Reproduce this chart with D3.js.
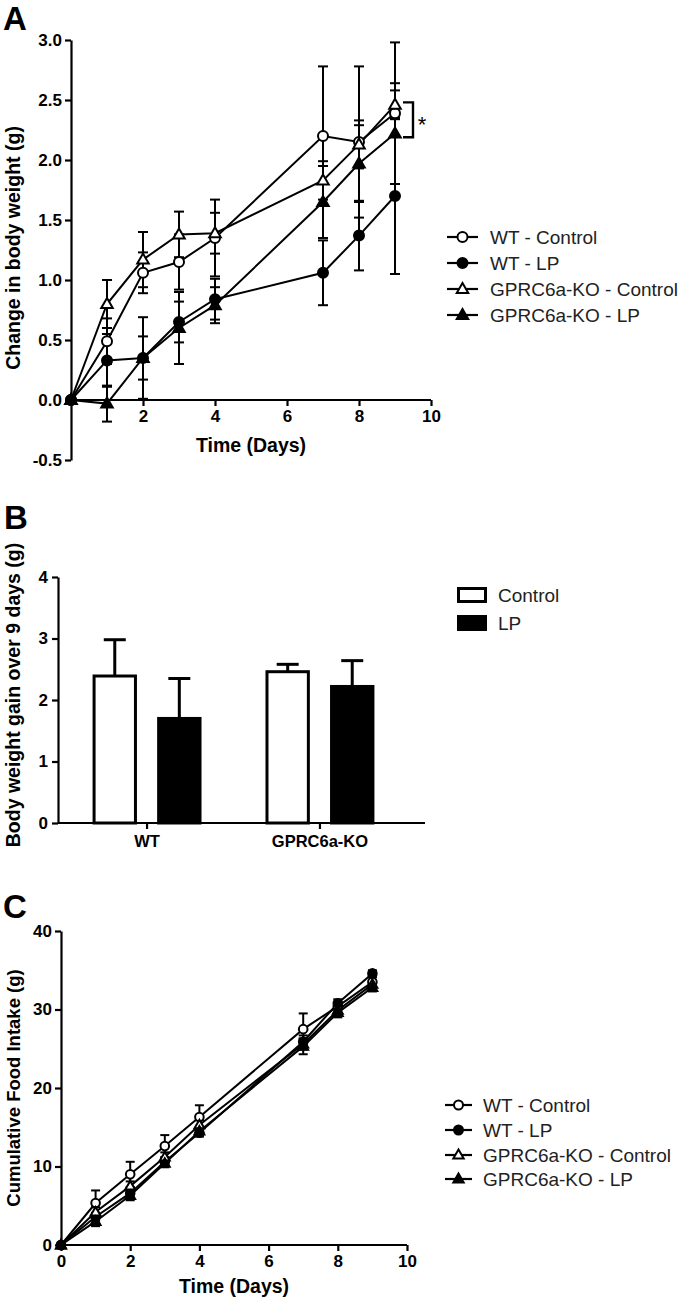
<!DOCTYPE html>
<html>
<head>
<meta charset="utf-8">
<script src="https://cdn.jsdelivr.net/npm/d3@7"></script>
<style>
  html, body { margin: 0; padding: 0; background: #fff; }
  svg { display: block; }
  text { font-family: "Liberation Sans", Arial, sans-serif; }
</style>
</head>
<body>
<script>
// ---------------- DATA ----------------
const days = [0, 1, 2, 3, 4, 7, 8, 9];

// Panel A: change in body weight (g), mean and SEM
const seriesNames = ["WT - Control", "WT - LP", "GPRC6a-KO - Control", "GPRC6a-KO - LP"];
const wtControlA = [0, 0.49, 1.06, 1.15, 1.35, 2.20, 2.15, 2.39];
const wtControlAErr = [0, 0.19, 0.17, 0.23, 0.32, 0.58, 0.63, 0.59];
const wtLPA = [0, 0.33, 0.35, 0.65, 0.84, 1.06, 1.37, 1.70];
const wtLPAErr = [0, 0.22, 0.18, 0.17, 0.17, 0.27, 0.29, 0.65];
const koControlA = [0, 0.80, 1.17, 1.38, 1.39, 1.83, 2.13, 2.46];
const koControlAErr = [0, 0.20, 0.23, 0.19, 0.17, 0.16, 0.20, 0.12];
const koLPA = [0, -0.03, 0.35, 0.60, 0.79, 1.65, 1.97, 2.22];
const koLPAErr = [0, 0.15, 0.34, 0.30, 0.15, 0.30, 0.32, 0.42];
const yTicksA = [-0.5, 0.0, 0.5, 1.0, 1.5, 2.0, 2.5, 3.0];
const xTicksA = [2, 4, 6, 8, 10];
const sigBracketA = [2.48, 2.19]; // bracket span at day 9

// Panel B: body weight gain over 9 days
const genotypes = ["WT", "GPRC6a-KO"];
const diets = ["Control", "LP"];
const gainControl = [2.39, 2.46];
const gainControlErr = [0.59, 0.12];
const gainLP = [1.70, 2.22];
const gainLPErr = [0.65, 0.42];
const yTicksB = [0, 1, 2, 3, 4];

// Panel C: cumulative food intake (g)
const wtControlC = [0, 5.35, 9.0, 12.6, 16.3, 27.5, 30.4, 33.5];
const wtControlCErr = [0, 1.6, 1.6, 1.4, 1.5, 2.0, 0.5, 0.6];
const wtLPC = [0, 3.6, 6.6, 10.6, 14.3, 25.9, 30.8, 34.6];
const wtLPCErr = [0, 0.5, 0.5, 0.5, 0.5, 0.8, 0.5, 0.4];
const koControlC = [0, 4.2, 7.5, 11.2, 15.3, 25.6, 29.9, 33.2];
const koControlCErr = [0, 0.6, 0.6, 0.6, 0.6, 0.7, 0.6, 0.5];
const koLPC = [0, 3.0, 6.3, 10.4, 14.5, 25.3, 29.6, 32.8];
const koLPCErr = [0, 0.6, 0.6, 0.5, 0.5, 1.0, 0.6, 0.5];
const yTicksC = [0, 10, 20, 30, 40];
const xTicksC = [0, 2, 4, 6, 8, 10];

// ---------------- DRAW ----------------
const W = 687, H = 1297;
const svg = d3.select("body").append("svg").attr("width", W).attr("height", H);
const FONT = '"Liberation Sans", Arial, sans-serif';

const markerStyles = [
  { shape: "circle", fill: "#fff" },
  { shape: "circle", fill: "#000" },
  { shape: "triangle", fill: "#fff" },
  { shape: "triangle", fill: "#000" }
];

function drawMarker(g, x, y, style, r) {
  if (style.shape === "circle") {
    g.append("circle").attr("cx", x).attr("cy", y).attr("r", r)
      .attr("fill", style.fill).attr("stroke", "#000").attr("stroke-width", 2);
  } else {
    const s = r * 2.3;
    const h = s * Math.sqrt(3) / 2;
    const pts = [[x, y - h * 0.6], [x - s / 2, y + h * 0.4], [x + s / 2, y + h * 0.4]];
    g.append("path").attr("d", "M" + pts.map(p => p.join(",")).join("L") + "Z")
      .attr("fill", style.fill).attr("stroke", "#000").attr("stroke-width", 2)
      .attr("stroke-linejoin", "miter");
  }
}

function styleAxis(g, fontSize) {
  g.select(".domain").attr("stroke", "#000").attr("stroke-width", 2.2);
  g.selectAll(".tick line").attr("stroke", "#000").attr("stroke-width", 2.2);
  g.selectAll(".tick text").attr("fill", "#000").attr("font-size", fontSize)
    .attr("font-weight", "bold").attr("font-family", FONT);
}

function linePanel(opts) {
  const { x, y, series, errs, xTicks, yTicks, yFormat, r, capW, xLabel, yLabel, yLabelX, xLabelY, yLabelSize } = opts;
  const g = svg.append("g");
  // axes
  const yAxis = d3.axisLeft(y).tickValues(yTicks).tickFormat(yFormat).tickSize(6).tickPadding(3).tickSizeOuter(0);
  const ga = g.append("g").attr("transform", `translate(${x.range()[0]},0)`).call(yAxis);
  styleAxis(ga, 17);
  const xAxis = d3.axisBottom(x).tickValues(xTicks).tickFormat(d3.format("d")).tickSize(6).tickPadding(4).tickSizeOuter(0);
  const gx = g.append("g").attr("transform", `translate(0,${y(0)})`).call(xAxis);
  styleAxis(gx, 17);
  gx.select(".domain").attr("d", `M${x.range()[0]},0H${x.range()[1]}`);
  // labels
  g.append("text").attr("x", (x.range()[0] + x.range()[1]) / 2).attr("y", xLabelY)
    .attr("text-anchor", "middle").attr("font-size", 19.5).attr("font-weight", "bold").text(xLabel);
  const yMid = (opts.yLabelMid);
  g.append("text").attr("transform", `translate(${yLabelX},${yMid}) rotate(-90)`)
    .attr("text-anchor", "middle").attr("font-size", yLabelSize).attr("font-weight", "bold").text(yLabel);

  const line = d3.line().x((d, i) => x(days[i])).y(d => y(d));
  series.forEach(s => {
    g.append("path").attr("d", line(s)).attr("fill", "none").attr("stroke", "#000").attr("stroke-width", 2);
  });
  series.forEach((s, k) => {
    s.forEach((v, i) => {
      const e = errs[k][i];
      if (!e) return;
      const cx = x(days[i]);
      g.append("line").attr("x1", cx).attr("x2", cx).attr("y1", y(v - e)).attr("y2", y(v + e))
        .attr("stroke", "#000").attr("stroke-width", 2);
      [v - e, v + e].forEach(t => {
        g.append("line").attr("x1", cx - capW / 2).attr("x2", cx + capW / 2).attr("y1", y(t)).attr("y2", y(t))
          .attr("stroke", "#000").attr("stroke-width", 2);
      });
    });
  });
  series.forEach((s, k) => {
    s.forEach((v, i) => drawMarker(g, x(days[i]), y(v), markerStyles[k], r));
  });
  return g;
}

function lineLegend(x0, x1, tx, ys, r) {
  const g = svg.append("g");
  seriesNames.forEach((name, k) => {
    const yy = ys[k];
    g.append("line").attr("x1", x0).attr("x2", x1).attr("y1", yy).attr("y2", yy)
      .attr("stroke", "#000").attr("stroke-width", 2.2);
    drawMarker(g, (x0 + x1) / 2, yy, markerStyles[k], r);
    g.append("text").attr("x", tx).attr("y", yy).attr("dy", "0.36em").attr("font-size", 19)
      .attr("fill", "#222").text(name);
  });
}

function panelLetter(t, x, y) {
  svg.append("text").attr("x", x).attr("y", y).attr("font-size", 33).attr("font-weight", "bold")
    .attr("font-family", FONT).text(t);
}

// ----- Panel A -----
panelLetter("A", 3, 30);
const xA = d3.scaleLinear().domain([0, 10]).range([71, 431]);
const yA = d3.scaleLinear().domain([-0.5, 3.0]).range([460, 40]);
const gA = linePanel({
  x: xA, y: yA,
  series: [wtControlA, wtLPA, koControlA, koLPA],
  errs: [wtControlAErr, wtLPAErr, koControlAErr, koLPAErr],
  xTicks: xTicksA, yTicks: yTicksA, yFormat: d => d.toFixed(1),
  r: 5, capW: 10,
  xLabel: "Time (Days)", yLabel: "Change in body weight (g)",
  yLabelX: 20, yLabelMid: 248, xLabelY: 452, yLabelSize: 19.5
});
// significance bracket
{
  const bx = xA(9) + 18;
  const [t1, t2] = sigBracketA;
  gA.append("path").attr("d", `M${bx - 10},${yA(t1)}H${bx}V${yA(t2)}H${bx - 10}`)
    .attr("fill", "none").attr("stroke", "#000").attr("stroke-width", 2.4);
  gA.append("text").attr("x", bx + 9).attr("y", (yA(t1) + yA(t2)) / 2 + 12)
    .attr("text-anchor", "middle").attr("font-size", 22).text("*");
}
lineLegend(447, 478, 490, [237, 263, 289, 315], 5);

// ----- Panel B -----
panelLetter("B", 4, 529);
const yB = d3.scaleLinear().domain([0, 4]).range([823, 577]);
const x0B = d3.scaleBand().domain(genotypes).range([58, 409]).paddingInner(0.37).paddingOuter(0.2);
const x1B = d3.scaleBand().domain(diets).range([0, x0B.bandwidth()]).paddingInner(0.3125).paddingOuter(0);
{
  const g = svg.append("g");
  const bars = [];
  genotypes.forEach((gt, i) => {
    bars.push({ gt, diet: "Control", v: gainControl[i], e: gainControlErr[i] });
    bars.push({ gt, diet: "LP", v: gainLP[i], e: gainLPErr[i] });
  });
  // error bars (upward only)
  bars.forEach(b => {
    const cx = x0B(b.gt) + x1B(b.diet) + x1B.bandwidth() / 2;
    g.append("line").attr("x1", cx).attr("x2", cx).attr("y1", yB(b.v)).attr("y2", yB(b.v + b.e))
      .attr("stroke", "#000").attr("stroke-width", 3);
    g.append("line").attr("x1", cx - 11).attr("x2", cx + 11).attr("y1", yB(b.v + b.e)).attr("y2", yB(b.v + b.e))
      .attr("stroke", "#000").attr("stroke-width", 3);
  });
  bars.forEach(b => {
    g.append("rect").attr("x", x0B(b.gt) + x1B(b.diet) + 1.5).attr("y", yB(b.v))
      .attr("width", x1B.bandwidth() - 3).attr("height", yB(0) - yB(b.v))
      .attr("fill", b.diet === "LP" ? "#000" : "#fff").attr("stroke", "#000").attr("stroke-width", 3);
  });
  const ya = g.append("g").attr("transform", "translate(58,0)")
    .call(d3.axisLeft(yB).tickValues(yTicksB).tickFormat(d3.format("d")).tickSize(6).tickPadding(4).tickSizeOuter(0));
  styleAxis(ya, 17);
  const xa = g.append("g").attr("transform", `translate(0,${yB(0)})`)
    .call(d3.axisBottom(x0B).tickSize(6).tickPadding(6).tickSizeOuter(0));
  styleAxis(xa, 16.5);
  xa.select(".domain").attr("d", "M58,0H425");
  g.append("text").attr("transform", "translate(20,695) rotate(-90)")
    .attr("text-anchor", "middle").attr("font-size", 19.5).attr("font-weight", "bold")
    .text("Body weight gain over 9 days (g)");
  // legend
  diets.forEach((d, i) => {
    const yy = [587, 615][i];
    g.append("rect").attr("x", 458.5).attr("y", yy + 1.5).attr("width", 27).attr("height", 13)
      .attr("fill", d === "LP" ? "#000" : "#fff").attr("stroke", "#000").attr("stroke-width", 3);
    g.append("text").attr("x", 498).attr("y", yy + 8).attr("dy", "0.36em").attr("font-size", 19)
      .attr("fill", "#222").text(d);
  });
}

// ----- Panel C -----
panelLetter("C", 3, 918);
const xC = d3.scaleLinear().domain([0, 10]).range([61, 407]);
const yC = d3.scaleLinear().domain([0, 40]).range([1245, 931]);
linePanel({
  x: xC, y: yC,
  series: [wtControlC, wtLPC, koControlC, koLPC],
  errs: [wtControlCErr, wtLPCErr, koControlCErr, koLPCErr],
  xTicks: xTicksC, yTicks: yTicksC, yFormat: d3.format("d"),
  r: 4.3, capW: 9,
  xLabel: "Time (Days)", yLabel: "Cumulative Food Intake (g)",
  yLabelX: 20, yLabelMid: 1088, xLabelY: 1293, yLabelSize: 18.5
});
lineLegend(445, 472, 483, [1105, 1130, 1155, 1179], 4.5);
</script>
</body>
</html>
